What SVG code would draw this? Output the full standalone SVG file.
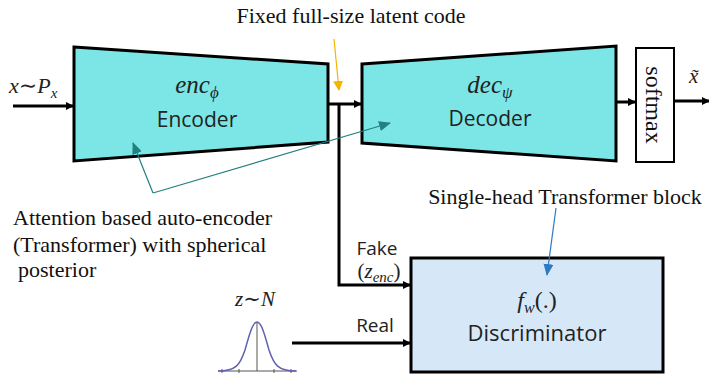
<svg xmlns="http://www.w3.org/2000/svg" width="709" height="375" viewBox="0 0 709 375">
<style>
.serif{font-family:"Liberation Serif","DejaVu Serif",serif;fill:#111}
.sans{font-family:"Open Sans","Noto Sans","DejaVu Sans",sans-serif;fill:#222}
.math{font-family:"Liberation Serif","DejaVu Serif",serif;font-style:italic;fill:#222}
.blk{stroke:#000;stroke-width:3;fill:none}
</style>
<defs>
<marker id="ah" markerWidth="8" markerHeight="8" refX="7" refY="4" orient="auto" markerUnits="userSpaceOnUse"><path d="M0,0 L8,4 L0,8 z" fill="#000"/></marker>
<marker id="ahO" markerWidth="10" markerHeight="10" refX="9" refY="5" orient="auto" markerUnits="userSpaceOnUse"><path d="M0,0 L10,5 L0,10 z" fill="#f5b400"/></marker>
<marker id="ahT" markerWidth="12" markerHeight="10" refX="11" refY="5" orient="auto" markerUnits="userSpaceOnUse"><path d="M0,0 L12,5 L0,10 z" fill="#22807e"/></marker>
<marker id="ahB" markerWidth="12" markerHeight="10" refX="11" refY="5" orient="auto" markerUnits="userSpaceOnUse"><path d="M0,0 L12,5 L0,10 z" fill="#2f78c4"/></marker>
</defs>
<rect width="709" height="375" fill="#fff"/>

<g id="encoder">
<polygon points="74,47 328,64 328,142 74,161" fill="#7ce6e6" stroke="#000" stroke-width="3"/>
<text x="197" y="93" text-anchor="middle" class="math" font-size="25">enc<tspan font-size="17" dy="5">ϕ</tspan></text>
<text x="197" y="127" text-anchor="middle" class="sans" font-size="21">Encoder</text>
</g>

<g id="decoder">
<polygon points="362,64 616,46 616,161 362,143" fill="#7ce6e6" stroke="#000" stroke-width="3"/>
<text x="490" y="93" text-anchor="middle" class="math" font-size="25">dec<tspan font-size="17" dy="5">ψ</tspan></text>
<text x="490" y="126" text-anchor="middle" class="sans" font-size="21">Decoder</text>
</g>

<g id="softmax">
<rect x="636" y="48" width="38" height="114" fill="#fff" stroke="#000" stroke-width="2"/>
<text transform="translate(646,105) rotate(90)" text-anchor="middle" class="serif" font-size="24">softmax</text>
</g>

<g id="discriminator">
<rect x="411" y="258" width="252" height="114" fill="#d6e8f8" stroke="#000" stroke-width="3"/>
<text x="537" y="308" text-anchor="middle" class="math" font-size="24">f<tspan font-size="16" dy="5">w</tspan><tspan dy="-5" font-style="normal">(.)</tspan></text>
<text x="537" y="341" text-anchor="middle" class="sans" font-size="22">Discriminator</text>
</g>

<g id="gaussian">
<text x="255" y="306" text-anchor="middle" class="math" font-size="21">z∼N</text>
<line x1="218" y1="371" x2="297" y2="371" stroke="#555" stroke-width="1"/>
<line x1="257" y1="322" x2="257" y2="371" stroke="#555" stroke-width="1"/>
<g stroke="#555" stroke-width="1"><line x1="222" y1="369" x2="222" y2="373"/><line x1="239" y1="369" x2="239" y2="373"/><line x1="274" y1="369" x2="274" y2="373"/><line x1="291" y1="369" x2="291" y2="373"/></g>
<path d="M218,371 C236,371 240,365 245,350 C250,332 253,322 257,322 C261,322 264,332 269,350 C274,365 278,371 296,371" fill="none" stroke="#6060b0" stroke-width="1.5"/>
</g>

<g id="labels">
<text x="351" y="23" text-anchor="middle" class="serif" font-size="22">Fixed full-size latent code</text>
<text x="9" y="93" class="math" font-size="22">x∼P<tspan font-size="15" dy="5">x</tspan></text>
<text x="689" y="83" class="math" font-size="21">x̃</text>
<text x="13" y="225" class="serif" font-size="22">Attention based auto-encoder</text>
<text x="13" y="252" class="serif" font-size="22">(Transformer) with spherical</text>
<text x="18" y="277" class="serif" font-size="22">posterior</text>
<text x="565" y="204" text-anchor="middle" class="serif" font-size="22">Single-head Transformer block</text>
<text x="377" y="255" text-anchor="middle" class="sans" font-size="19">Fake</text>
<text x="379" y="278" text-anchor="middle" class="math" font-size="21"><tspan font-style="normal">(</tspan>z<tspan font-size="15" dy="4">enc</tspan><tspan font-style="normal" dy="-4">)</tspan></text>
<text x="375" y="332" text-anchor="middle" class="sans" font-size="19">Real</text>
</g>

<g id="connectors">
<line x1="13" y1="106" x2="73" y2="106" class="blk" marker-end="url(#ah)"/>
<line x1="328" y1="104" x2="361" y2="104" class="blk" marker-end="url(#ah)"/>
<polyline points="339,104 339,285 410,285" class="blk" marker-end="url(#ah)"/>
<line x1="616" y1="102" x2="635" y2="102" class="blk" marker-end="url(#ah)"/>
<line x1="674" y1="101" x2="709" y2="101" class="blk" marker-end="url(#ah)"/>
<line x1="292" y1="343" x2="410" y2="343" class="blk" marker-end="url(#ah)"/>
<line x1="334" y1="39" x2="339" y2="90" stroke="#f5b400" stroke-width="1.2" marker-end="url(#ahO)"/>
<line x1="153" y1="193" x2="390" y2="123" stroke="#22807e" stroke-width="1.2" marker-end="url(#ahT)"/>
<line x1="153" y1="193" x2="133" y2="143" stroke="#22807e" stroke-width="1.2" marker-end="url(#ahT)"/>
<line x1="556" y1="208" x2="547" y2="275" stroke="#2f78c4" stroke-width="1.2" marker-end="url(#ahB)"/>
</g>
</svg>
